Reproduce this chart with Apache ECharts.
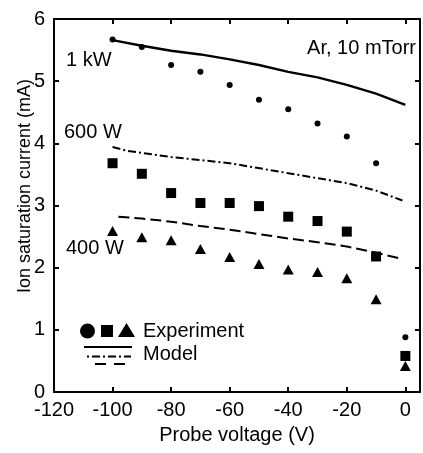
<!DOCTYPE html>
<html>
<head>
<meta charset="utf-8">
<script src="https://cdn.jsdelivr.net/npm/echarts@6/dist/echarts.min.js"></script>
<style>
  html, body { margin: 0; padding: 0; background: #fff; }
  #chart { width: 423px; height: 453px; }
</style>
</head>
<body>
<div id="chart"></div>
<script>
// Probe voltages (V) of the measured points
const voltages = [-100, -90, -80, -70, -60, -50, -40, -30, -20, -10, 0];

// Measured ion saturation current (mA)
const exp1kW  = [5.67, 5.55, 5.26, 5.15, 4.94, 4.70, 4.55, 4.32, 4.11, 3.68, 0.88];
const exp600W = [3.68, 3.51, 3.20, 3.04, 3.04, 2.99, 2.82, 2.75, 2.58, 2.18, 0.58];
const exp400W = [2.59, 2.49, 2.44, 2.30, 2.17, 2.06, 1.97, 1.93, 1.83, 1.49, 0.42];

// Model curves (mA)
const modelV1kW  = [-100, -90, -80, -70, -60, -50, -40, -30, -20, -10, 0];
const model1kW   = [5.66, 5.57, 5.49, 5.43, 5.35, 5.26, 5.15, 5.06, 4.94, 4.80, 4.62];
const modelV600W = [-100, -95, -80, -60, -40, -20, -10, -1];
const model600W  = [3.94, 3.88, 3.78, 3.68, 3.52, 3.36, 3.24, 3.08];
const modelV400W = [-98, -90, -80, -70, -60, -50, -40, -30, -20, -10, -2];
const model400W  = [2.82, 2.79, 2.74, 2.67, 2.61, 2.54, 2.47, 2.41, 2.34, 2.24, 2.15];

// Axis ranges and tick labels
const xTicks = [-120, -100, -80, -60, -40, -20, 0];
const yTicks = [0, 1, 2, 3, 4, 5, 6];

// Text
const xTitle = 'Probe voltage (V)';
const yTitle = 'Ion saturation current (mA)';
const powerLabels = ['1 kW', '600 W', '400 W'];
const gasLabel = 'Ar, 10 mTorr';
const legendLabels = ['Experiment', 'Model'];

const FONT = 'Arial, "Liberation Sans", sans-serif';
const INK = '#000';

const pairs = (xs, ys) => xs.map((x, i) => [x, ys[i]]);

const axisBase = {
  type: 'value',
  axisLine: { show: true, onZero: false, lineStyle: { color: INK, width: 2 } },
  axisTick: { show: true, inside: true, length: 5, lineStyle: { color: INK, width: 2 } },
  splitLine: { show: false }
};

const chart = echarts.init(document.getElementById('chart'), null, { renderer: 'canvas' });

const textEl = (text, x, y, opts = {}) => ({
  type: 'text',
  x, y,
  silent: true,
  rotation: opts.rotation || 0,
  style: {
    text,
    fill: INK,
    font: `${opts.size || 20}px ${FONT}`,
    align: opts.align || 'left',
    verticalAlign: 'middle'
  }
});

const markerStyle = { color: INK, opacity: 1 };

chart.setOption({
  animation: false,
  backgroundColor: '#fff',
  grid: { left: 54, top: 19, width: 372, height: 373 },
  xAxis: [
    Object.assign({}, axisBase, {
      position: 'bottom',
      min: xTicks[0], max: 5, interval: 20,
      axisLabel: {
        color: INK, fontSize: 20, fontFamily: FONT, margin: 8,
        formatter: v => (xTicks.indexOf(v) >= 0 ? String(v) : '')
      },
      name: xTitle,
      nameLocation: 'middle',
      nameGap: 33,
      nameTextStyle: { color: INK, fontSize: 20, fontFamily: FONT }
    }),
    Object.assign({}, axisBase, {
      position: 'top',
      min: xTicks[0], max: 5, interval: 20,
      axisLabel: { show: false }
    })
  ],
  yAxis: [
    Object.assign({}, axisBase, {
      position: 'left',
      min: yTicks[0], max: yTicks[yTicks.length - 1], interval: 1,
      axisLabel: { color: INK, fontSize: 20, fontFamily: FONT, margin: 9 }
    }),
    Object.assign({}, axisBase, {
      position: 'right',
      min: yTicks[0], max: yTicks[yTicks.length - 1], interval: 1,
      axisLabel: { show: false }
    })
  ],
  series: [
    {
      type: 'line', name: 'model 1 kW', data: pairs(modelV1kW, model1kW),
      showSymbol: false, symbol: 'none',
      lineStyle: { color: INK, width: 2.4 }
    },
    {
      type: 'line', name: 'model 600 W', data: pairs(modelV600W, model600W),
      showSymbol: false, symbol: 'none',
      lineStyle: { color: INK, width: 2, type: [8, 3, 2, 3] }
    },
    {
      type: 'line', name: 'model 400 W', data: pairs(modelV400W, model400W),
      showSymbol: false, symbol: 'none',
      lineStyle: { color: INK, width: 2, type: [11, 5] }
    },
    {
      type: 'scatter', name: 'exp 1 kW', data: pairs(voltages, exp1kW),
      symbol: 'circle', symbolSize: 6, itemStyle: markerStyle
    },
    {
      type: 'scatter', name: 'exp 600 W', data: pairs(voltages, exp600W),
      symbol: 'rect', symbolSize: 10, itemStyle: markerStyle
    },
    {
      type: 'scatter', name: 'exp 400 W', data: pairs(voltages, exp400W),
      symbol: 'triangle', symbolSize: [11, 10], itemStyle: markerStyle
    }
  ],
  graphic: [
    textEl(yTitle, 25, 186, { size: 18, align: 'center', rotation: Math.PI / 2 }),
    textEl(powerLabels[0], 66, 60),
    textEl(powerLabels[1], 64, 132),
    textEl(powerLabels[2], 66, 248),
    textEl(gasLabel, 416, 48, { align: 'right' }),
    // legend keys
    { type: 'circle', silent: true, shape: { cx: 87.5, cy: 331, r: 7.5 }, style: { fill: INK } },
    { type: 'rect', silent: true, shape: { x: 101, y: 325, width: 12, height: 12 }, style: { fill: INK } },
    { type: 'polygon', silent: true, shape: { points: [[118, 337], [135, 337], [126.5, 323]] }, style: { fill: INK } },
    { type: 'line', silent: true, shape: { x1: 84, y1: 347, x2: 132, y2: 347 }, style: { stroke: INK, lineWidth: 2 } },
    { type: 'line', silent: true, shape: { x1: 87, y1: 356.5, x2: 131, y2: 356.5 }, style: { stroke: INK, lineWidth: 2, lineDash: [2, 3, 8, 3] } },
    { type: 'line', silent: true, shape: { x1: 95, y1: 364, x2: 131, y2: 364 }, style: { stroke: INK, lineWidth: 2, lineDash: [11, 8] } },
    textEl(legendLabels[0], 143, 331),
    textEl(legendLabels[1], 143, 354)
  ]
});
</script>
</body>
</html>
